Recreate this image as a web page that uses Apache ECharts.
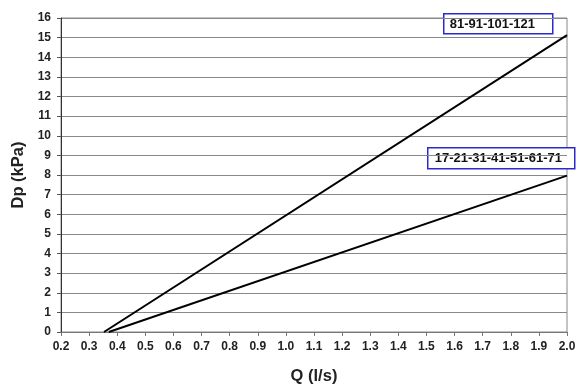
<!DOCTYPE html>
<html>
<head>
<meta charset="utf-8">
<script src="https://cdn.jsdelivr.net/npm/echarts@6/dist/echarts.min.js"></script>
<style>
html,body{margin:0;padding:0;background:#fff;}
#chart{width:577px;height:385px;}
</style>
</head>
<body>
<div id="chart"></div>
<script>
// Data
const seriesNames = ['81-91-101-121', '17-21-31-41-51-61-71'];
const q_81 = [0.353, 2.0];
const dp_81 = [0, 15.13];
const q_17 = [0.37, 2.0];
const dp_17 = [0, 7.97];
const xTicks = {min: 0.2, max: 2.0, interval: 0.1};
const yTicks = {min: 0, max: 16, interval: 1};
const xTitle = 'Q (l/s)';
const yTitle = 'Dp (kPa)';

const chart = echarts.init(document.getElementById('chart'), null, {renderer: 'canvas'});
const tickFont = {fontFamily: 'Arial, "Liberation Sans", sans-serif', fontWeight: 'bold', fontSize: 12, color: '#222'};

function pairs(xs, ys) { return xs.map((x, i) => [x, ys[i]]); }

chart.setOption({
  animation: false,
  backgroundColor: '#fff',
  grid: {left: 61, right: 10, top: 18, bottom: 53, show: true, borderColor: '#888', borderWidth: 1, containLabel: false, outerBoundsMode: 'none'},
  xAxis: {
    type: 'value', min: xTicks.min, max: xTicks.max, interval: xTicks.interval,
    name: xTitle, nameLocation: 'middle', nameGap: 36,
    nameTextStyle: {fontFamily: 'Arial, "Liberation Sans", sans-serif', fontWeight: 'bold', fontSize: 16.5, color: '#222'},
    axisLine: {show: true, lineStyle: {color: '#777', width: 1}},
    axisTick: {show: true, inside: false, length: 4, lineStyle: {color: '#777'}},
    axisLabel: Object.assign({margin: 9, formatter: v => v.toFixed(1)}, tickFont),
    splitLine: {show: false}
  },
  yAxis: {
    type: 'value', min: yTicks.min, max: yTicks.max, interval: yTicks.interval,
    name: yTitle, nameLocation: 'middle', nameGap: 29, nameRotate: 90,
    nameTextStyle: {fontFamily: 'Arial, "Liberation Sans", sans-serif', fontWeight: 'bold', fontSize: 16.5, color: '#222'},
    axisLine: {show: true, lineStyle: {color: '#333', width: 1}},
    axisTick: {show: true, inside: false, length: 4, lineStyle: {color: '#555'}},
    axisLabel: Object.assign({margin: 10}, tickFont),
    splitLine: {show: true, lineStyle: {color: '#888', width: 1}}
  },
  series: [
    {name: seriesNames[0], type: 'line', data: pairs(q_81, dp_81), symbol: 'none', lineStyle: {color: '#000', width: 2}, z: 5},
    {name: seriesNames[1], type: 'line', data: pairs(q_17, dp_17), symbol: 'none', lineStyle: {color: '#000', width: 2}, z: 5}
  ],
  graphic: [
    {type: 'group', left: 443, top: 13, z: 100, children: [
      {type: 'rect', shape: {x: 0, y: 0, width: 109, height: 20}, style: {fill: '#fff', stroke: '#2a2ad0', lineWidth: 1.5}},
      {type: 'text', x: 6, y: 4, style: {text: seriesNames[0], font: 'bold 13px Arial, "Liberation Sans", sans-serif', fill: '#111', verticalAlign: 'top'}}
    ]},
    {type: 'group', left: 427, top: 147, z: 100, children: [
      {type: 'rect', shape: {x: 0, y: 0, width: 147, height: 21}, style: {fill: '#fff', stroke: '#2a2ad0', lineWidth: 1.5}},
      {type: 'text', x: 7, y: 4.5, style: {text: seriesNames[1], font: 'bold 13px Arial, "Liberation Sans", sans-serif', fill: '#111', verticalAlign: 'top'}}
    ]}
  ]
});
</script>
</body>
</html>
